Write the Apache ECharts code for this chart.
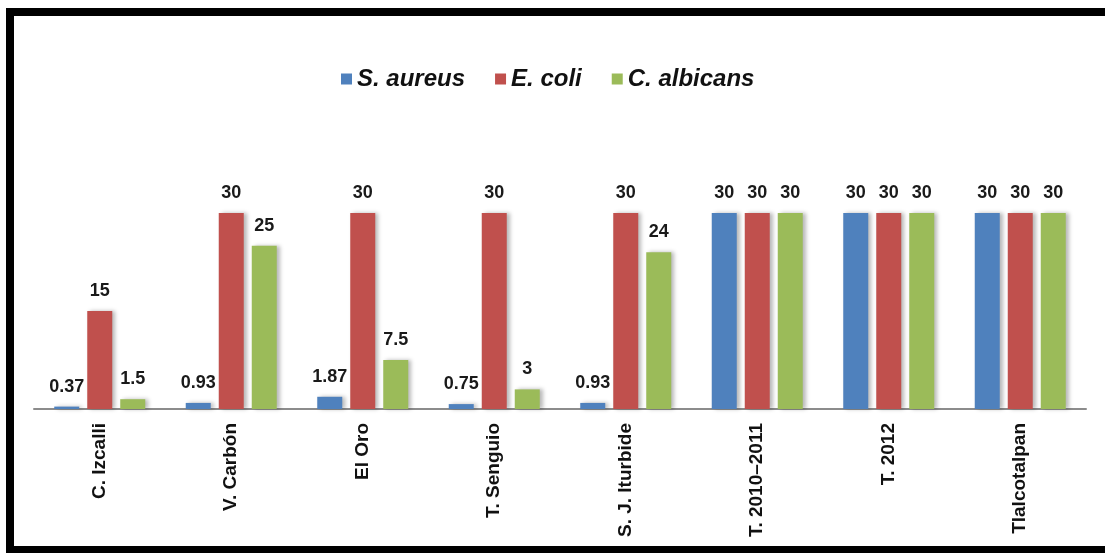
<!DOCTYPE html>
<html>
<head>
<meta charset="utf-8">
<script src="https://cdn.jsdelivr.net/npm/echarts@6/dist/echarts.min.js"></script>
<style>
  html, body { margin: 0; padding: 0; background: #fff; }
  #chart { width: 1105px; height: 553px; }
</style>
</head>
<body>
<div id="chart"></div>
<script>
// 各采样点名称
const categories = ['C. Izcalli', 'V. Carbón', 'El Oro', 'T. Senguio', 'S. J. Iturbide', 'T. 2010–2011', 'T. 2012', 'Tlalcotalpan']
const seriesNames = ['S. aureus', 'E. coli', 'C. albicans']
const aureus = [0.37, 0.93, 1.87, 0.75, 0.93, 30, 30, 30]
const coli = [15, 30, 30, 30, 30, 30, 30, 30]
const albicans = [1.5, 25, 7.5, 3, 24, 30, 30, 30]
const colors = ['#4F81BD', '#C0504D', '#9BBB59']

const font = '"Liberation Sans", Arial, sans-serif'

function bar(name, data, color) {
  return {
    name,
    type: 'bar',
    data,
    barWidth: 25,
    barGap: '32%',
    itemStyle: {
      color,
      shadowColor: 'rgba(0,0,0,0.28)',
      shadowBlur: 4,
      shadowOffsetX: 3,
      shadowOffsetY: 0
    },
    label: {
      show: true,
      position: 'top',
      distance: 11,
      color: '#1a1a1a',
      fontFamily: font,
      fontWeight: 'bold',
      fontSize: 18
    }
  }
}

const chart = echarts.init(document.getElementById('chart'))
chart.setOption({
  animation: false,
  backgroundColor: '#fff',
  legend: {
    left: 336,
    top: 62,
    itemWidth: 11,
    itemHeight: 11,
    itemGap: 30,
    icon: 'rect',
    textStyle: {
      fontFamily: font,
      fontSize: 24,
      fontWeight: 'bold',
      fontStyle: 'italic',
      color: '#111'
    }
  },
  grid: { left: 34, right: 19, top: 213, bottom: 144 },
  xAxis: {
    type: 'category',
    data: categories,
    axisLine: { lineStyle: { color: '#8c8c8c', width: 2 } },
    axisTick: { show: false },
    axisLabel: {
      rotate: 90,
      margin: 14,
      color: '#111',
      fontFamily: font,
      fontWeight: 'bold',
      fontSize: 19
    }
  },
  yAxis: {
    type: 'value',
    min: 0,
    max: 30,
    show: false
  },
  series: [
    bar(seriesNames[0], aureus, colors[0]),
    bar(seriesNames[1], coli, colors[1]),
    bar(seriesNames[2], albicans, colors[2])
  ],
  graphic: [
    {
      type: 'rect',
      shape: { x: 10, y: 12, width: 1120, height: 538 },
      style: { fill: null, stroke: '#000', lineWidth: 8 },
      silent: true
    }
  ]
})
</script>
</body>
</html>
